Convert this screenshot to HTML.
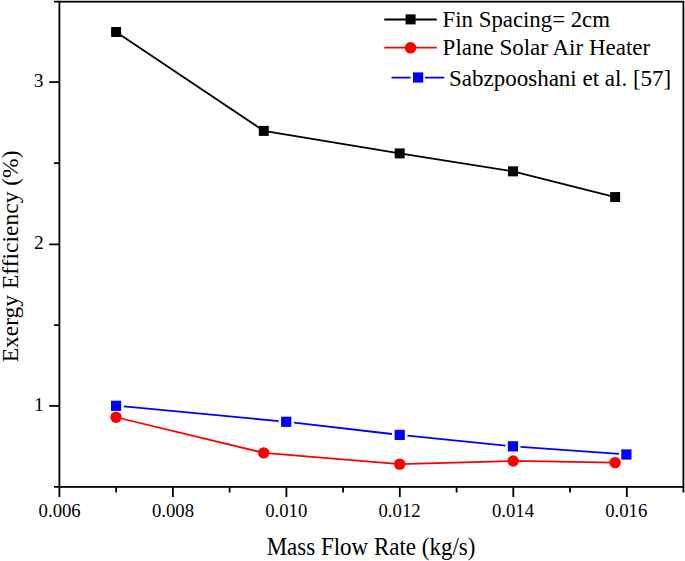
<!DOCTYPE html>
<html><head><meta charset="utf-8"><style>
html,body{margin:0;padding:0;background:#fff;}
body{width:685px;height:561px;overflow:hidden;}
svg{display:block;}
text{font-family:"Liberation Serif",serif;fill:#000;}
</style></head><body>
<svg width="685" height="561" viewBox="0 0 685 561">
<rect x="0" y="0" width="685" height="561" fill="#fff"/>
<!-- frame -->
<g stroke="#000" stroke-width="1.8" fill="none">
<rect x="59.4" y="1.7" width="624" height="485.2"/>
<!-- x major ticks -->
<path d="M59.4 486.9V497 M172.9 486.9V497 M286.4 486.9V497 M399.8 486.9V497 M513.3 486.9V497 M626.8 486.9V497"/>
<!-- x minor ticks -->
<path d="M116.1 486.9V492.5 M229.6 486.9V492.5 M343.1 486.9V492.5 M456.6 486.9V492.5 M570.0 486.9V492.5 M683.4 486.9V492.5"/>
<!-- y major ticks -->
<path d="M59.4 82.2H49.2 M59.4 244.3H49.2 M59.4 405.9H49.2"/>
<!-- y minor ticks -->
<path d="M59.4 486.9H54 M59.4 163.2H54 M59.4 325.1H54 M59.4 1.7H54"/>
</g>
<!-- tick labels -->
<g font-size="19.6" text-anchor="middle">
<text transform="translate(59.65 517.1) scale(0.955 1)">0.006</text>
<text transform="translate(172.95 517.1) scale(0.955 1)">0.008</text>
<text transform="translate(286.2 517.1) scale(0.955 1)">0.010</text>
<text transform="translate(399.55 517.1) scale(0.955 1)">0.012</text>
<text transform="translate(512.95 517.1) scale(0.955 1)">0.014</text>
<text transform="translate(626.25 517.1) scale(0.955 1)">0.016</text>
</g>
<g font-size="19.5" text-anchor="middle">
<text x="38.7" y="87.4">3</text>
<text x="38.9" y="249.2">2</text>
<text x="38.9" y="410.8">1</text>
</g>
<!-- axis titles -->
<text transform="translate(371.05 554.9) scale(0.95 1)" font-size="24.2" text-anchor="middle">Mass Flow Rate (kg/s)</text>
<text transform="translate(17.8 256.4) rotate(-90)" font-size="23.5" text-anchor="middle">Exergy Efficiency (%)</text>

<!-- black series -->
<polyline points="116.1,32.0 263.8,130.9 399.7,153.4 513.05,171.35 615.15,197.05" fill="none" stroke="#000" stroke-width="1.8"/>
<g fill="#000">
<rect x="111.1" y="27" width="10" height="10"/>
<rect x="258.8" y="125.9" width="10" height="10"/>
<rect x="394.7" y="148.4" width="10" height="10"/>
<rect x="508.05" y="166.35" width="10" height="10"/>
<rect x="610.15" y="192.05" width="10" height="10"/>
</g>
<!-- blue series -->
<g stroke="#0000ff" stroke-width="1.8" fill="none">
<path d="M123.8,406.43 L278.6,421.08 M294.1,422.71 L392,434.01 M407.5,435.68 L505.5,445.59 M520.5,446.89 L619,453.97"/>
</g>
<g fill="#0000ff">
<rect x="111" y="400.7" width="10.2" height="10.2"/>
<rect x="281.1" y="416.7" width="10.2" height="10.2"/>
<rect x="394.6" y="429.8" width="10.2" height="10.2"/>
<rect x="507.85" y="441.25" width="10.2" height="10.2"/>
<rect x="621.3" y="449.4" width="10.2" height="10.2"/>
</g>
<!-- red series -->
<polyline points="116,417.25 263.7,452.85 399.7,464.1 513.2,460.95 615.1,462.6" fill="none" stroke="#ff0000" stroke-width="1.8"/>
<g fill="#ff0000">
<circle cx="116" cy="417.25" r="5.7"/>
<circle cx="263.7" cy="452.85" r="5.7"/>
<circle cx="399.7" cy="464.1" r="5.7"/>
<circle cx="513.2" cy="460.95" r="5.7"/>
<circle cx="615.1" cy="462.6" r="5.7"/>
</g>

<!-- legend -->
<path d="M384.3 19.5H436.8" stroke="#000" stroke-width="1.8"/>
<rect x="405.6" y="14.4" width="10" height="10" fill="#000"/>
<text x="442.6" y="26.6" font-size="22.8">Fin Spacing= 2cm</text>
<path d="M384.3 47.7H436.8" stroke="#ff0000" stroke-width="1.8"/>
<circle cx="410.5" cy="47.8" r="5.8" fill="#ff0000"/>
<text x="442.6" y="55.2" font-size="23">Plane Solar Air Heater</text>
<path d="M391.5 77.7H410.6 M425.1 77.7H444.3" stroke="#0000ff" stroke-width="1.8"/>
<rect x="413" y="72.4" width="10.2" height="10.2" fill="#0000ff"/>
<text x="449" y="85.5" font-size="23">Sabzpooshani et al. [57]</text>
</svg>
</body></html>
